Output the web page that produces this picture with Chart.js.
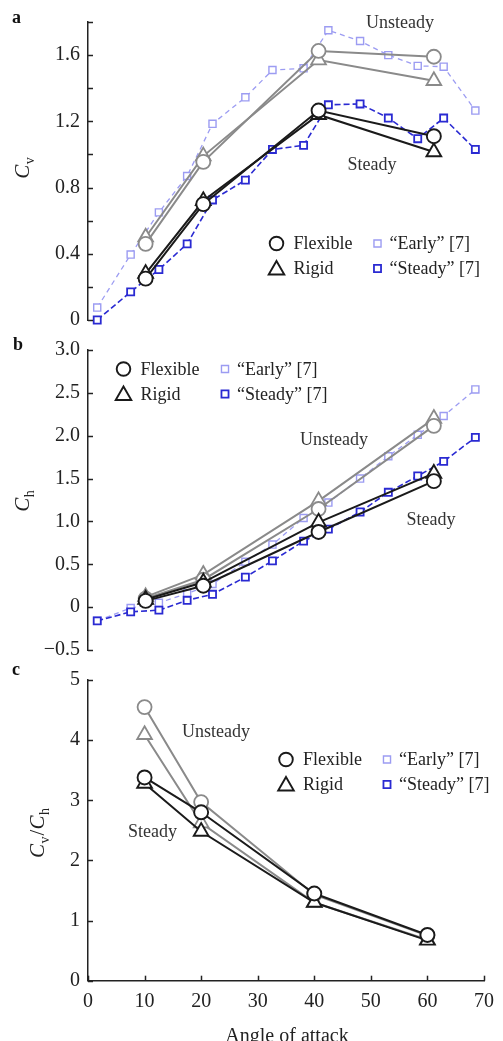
<!DOCTYPE html>
<html>
<head>
<meta charset="utf-8">
<script src="https://cdn.jsdelivr.net/npm/chart.js@4.4.1/dist/chart.umd.min.js"></script>
<style>
  html, body { margin: 0; padding: 0; background: #fff; }
  #fig { position: relative; width: 503px; height: 1041px; overflow: hidden; background: #fff; }
  .panel { position: absolute; left: 0; width: 503px; }
  .panel canvas { display: block; }
</style>
</head>
<body>
<div id="fig">
  <div class="panel" style="top:0px;height:340px"><canvas id="chartCv" width="503" height="340"></canvas></div>
  <div class="panel" style="top:330px;height:340px"><canvas id="chartCh" width="503" height="340"></canvas></div>
  <div class="panel" style="top:660px;height:381px"><canvas id="chartRatio" width="503" height="381"></canvas></div>
</div>
<script>
// Angles of attack (degrees) for the present measurements and for reference [7]
const angles = [10, 20, 40, 60];
const refAngles = [1.6, 7.4, 12.3, 17.2, 21.6, 27.3, 32.0, 37.4, 41.7, 47.2, 52.1, 57.2, 61.7, 67.2];

// Vertical force coefficient C_v
const cvFlexUnsteady  = [0.46, 0.955, 1.625, 1.59];
const cvRigidUnsteady = [0.50, 0.99, 1.57, 1.445];
const cvFlexSteady    = [0.25, 0.70, 1.265, 1.11];
const cvRigidSteady   = [0.28, 0.72, 1.24, 1.015];
const cvEarlyRef      = [0.075, 0.395, 0.65, 0.87, 1.185, 1.345, 1.51, 1.52, 1.75, 1.685, 1.60, 1.535, 1.53, 1.265];
const cvSteadyRef     = [0.0, 0.17, 0.305, 0.46, 0.725, 0.845, 1.03, 1.055, 1.30, 1.305, 1.22, 1.095, 1.22, 1.03];

// Horizontal force coefficient C_h
const chFlexUnsteady  = [0.10, 0.32, 1.145, 2.115];
const chRigidUnsteady = [0.12, 0.38, 1.24, 2.20];
const chFlexSteady    = [0.073, 0.25, 0.877, 1.47];
const chRigidSteady   = [0.09, 0.29, 0.99, 1.56];
const chEarlyRef      = [-0.16, -0.01, 0.05, 0.16, 0.27, 0.53, 0.73, 1.04, 1.22, 1.50, 1.76, 2.01, 2.23, 2.54];
const chSteadyRef     = [-0.16, -0.055, -0.035, 0.08, 0.15, 0.35, 0.54, 0.77, 0.91, 1.11, 1.34, 1.53, 1.70, 1.98];

// Force ratio C_v / C_h
const ratioFlexUnsteady  = [4.55, 2.97, 1.43, 0.75];
const ratioRigidUnsteady = [4.09, 2.62, 1.30, 0.68];
const ratioFlexSteady    = [3.38, 2.80, 1.45, 0.76];
const ratioRigidSteady   = [3.28, 2.48, 1.30, 0.67];

// Tick values
const xTicks = [0, 10, 20, 30, 40, 50, 60, 70];

const SERIF = '"Liberation Serif", "DejaVu Serif", serif';
const GRAY = '#8a8a8a';
const BLACK = '#1a1a1a';
const LAVENDER = '#9c9cf2';
const BLUE = '#2a2ad2';

const STY = {
  flexUnsteady:  { color: GRAY,  point: 'circle',   r: 7,   pbw: 1.8, lw: 2,   order: 2 },
  rigidUnsteady: { color: GRAY,  point: 'triangle', r: 8.5, pbw: 1.8, lw: 2,   order: 3 },
  flexSteady:    { color: BLACK, point: 'circle',   r: 7,   pbw: 1.9, lw: 2,   order: 0 },
  rigidSteady:   { color: BLACK, point: 'triangle', r: 8.5, pbw: 1.9, lw: 2,   order: 1 },
  earlyRef:      { color: LAVENDER, point: 'rect',  r: 5,   pbw: 1.4, lw: 1.3, dash: [5, 4], order: 5 },
  steadyRef:     { color: BLUE,  point: 'rect',     r: 5,   pbw: 1.8, lw: 1.6, dash: [6, 3], order: 4 }
};

function series(label, xs, ys, st) {
  return {
    label,
    data: xs.map((x, i) => ({ x, y: ys[i] })),
    borderColor: st.color,
    backgroundColor: '#fff',
    borderWidth: st.lw,
    borderDash: st.dash || [],
    pointStyle: st.point,
    pointRadius: st.r,
    pointHoverRadius: st.r,
    pointBorderWidth: st.pbw,
    pointBorderColor: st.color,
    pointBackgroundColor: '#fff',
    order: st.order,
    clip: false,
    tension: 0
  };
}

// Draws one marker the way Chart.js draws dataset points
function marker(ctx, st, x, y) {
  ctx.save();
  ctx.strokeStyle = st.color;
  ctx.fillStyle = '#fff';
  ctx.lineWidth = st.pbw;
  Chart.helpers.drawPoint(ctx, { pointStyle: st.point, radius: st.r, borderWidth: st.pbw, rotation: 0 }, x, y);
  ctx.restore();
}

// Italic symbol with upright subscript, rotated to read bottom-to-top
function yTitle(ctx, baseX, centerY, parts) {
  ctx.save();
  ctx.translate(baseX, centerY);
  ctx.rotate(-Math.PI / 2);
  const fontOf = p => p.sub ? `14px ${SERIF}` : (p.italic ? `italic 21px ${SERIF}` : `21px ${SERIF}`);
  let total = 0;
  parts.forEach(p => { ctx.font = fontOf(p); total += ctx.measureText(p.t).width + (p.gap || 0); });
  let x = -total / 2;
  ctx.fillStyle = '#222';
  ctx.textBaseline = 'alphabetic';
  ctx.textAlign = 'left';
  parts.forEach(p => {
    ctx.font = fontOf(p);
    ctx.fillText(p.t, x, p.sub ? 5 : 0);
    x += ctx.measureText(p.t).width + (p.gap || 0);
  });
  ctx.restore();
}

function decorPlugin(cfg) {
  return {
    id: 'decor',
    afterDraw(chart) {
      const ctx = chart.ctx;
      const ys = chart.scales.y;
      ctx.save();
      // inward tick marks
      ctx.strokeStyle = '#222';
      ctx.lineWidth = 1.5;
      ys.ticks.forEach(t => {
        const py = Math.round(ys.getPixelForValue(t.value)) + 0.5;
        ctx.beginPath();
        ctx.moveTo(ys.right, py);
        ctx.lineTo(ys.right + 5, py);
        ctx.stroke();
      });
      if (cfg.xAxis) {
        const xs = chart.scales.x;
        xs.ticks.forEach(t => {
          const px = Math.round(xs.getPixelForValue(t.value)) + 0.5;
          ctx.beginPath();
          ctx.moveTo(px, xs.top);
          ctx.lineTo(px, xs.top - 5);
          ctx.stroke();
        });
        ctx.fillStyle = '#222';
        ctx.font = `20px ${SERIF}`;
        ctx.textAlign = 'center';
        ctx.textBaseline = 'alphabetic';
        ctx.fillText('Angle of attack', 287, cfg.xTitleY);
      }
      // panel letter
      ctx.fillStyle = '#111';
      ctx.font = `bold 18px ${SERIF}`;
      ctx.textAlign = 'left';
      ctx.textBaseline = 'alphabetic';
      ctx.fillText(cfg.letter[0], cfg.letter[1], cfg.letter[2]);
      // y title
      yTitle(ctx, cfg.yTitle[0], cfg.yTitle[1], cfg.yTitle[2]);
      // regime annotations
      ctx.fillStyle = '#333';
      ctx.font = `18px ${SERIF}`;
      ctx.textAlign = 'center';
      ctx.textBaseline = 'middle';
      cfg.notes.forEach(n => ctx.fillText(n[0], n[1], n[2]));
      // legend
      const L = cfg.legend;
      const items = [
        [STY.flexSteady, 'Flexible', L.c1, L.r1],
        [STY.rigidSteady, 'Rigid', L.c1, L.r2],
        [STY.earlyRef, '\u201CEarly\u201D [7]', L.c2, L.r1],
        [STY.steadyRef, '\u201CSteady\u201D [7]', L.c2, L.r2]
      ];
      items.forEach(([st, text, cx, cy]) => {
        const lst = Object.assign({}, st);
        if (st.point === 'circle') lst.r = 6.8;
        else if (st.point === 'triangle') lst.r = 9;
        else lst.r = 5;
        marker(ctx, lst, cx, cy + (st.point === 'triangle' ? 1.5 : 0));
        ctx.fillStyle = '#222';
        ctx.font = `18px ${SERIF}`;
        ctx.textAlign = 'left';
        ctx.textBaseline = 'middle';
        ctx.fillText(text, cx + (st.point === 'rect' ? 12 : 17), cy + 1);
      });
      ctx.restore();
    }
  };
}

function makeChart(id, datasets, yOpts, layoutPad, cfg) {
  const xAxis = cfg.xAxis ? {
    type: 'linear', min: 0, max: 70,
    afterBuildTicks: s => { s.ticks = xTicks.map(v => ({ value: v })); },
    grid: { display: false, drawTicks: false },
    border: { display: true, color: '#222', width: 1.5 },
    ticks: { color: '#222', font: { family: SERIF, size: 20 }, padding: 9, maxRotation: 0, autoSkip: false },
    afterFit: s => { s.height = cfg.xHeight; }
  } : { type: 'linear', min: 0, max: 70, display: false };
  return new Chart(document.getElementById(id), {
    type: 'line',
    data: { datasets },
    options: {
      responsive: false,
      animation: false,
      events: [],
      layout: { padding: layoutPad },
      plugins: { legend: { display: false }, tooltip: { enabled: false } },
      scales: {
        x: xAxis,
        y: Object.assign({
          type: 'linear',
          grid: { display: false, drawTicks: false },
          border: { display: true, color: '#222', width: 1.5 },
          afterFit: s => { s.width = 88; }
        }, yOpts)
      }
    },
    plugins: [decorPlugin(cfg)]
  });
}

// ---- a: vertical force coefficient ----
const cvTicks = [0, 0.2, 0.4, 0.6, 0.8, 1.0, 1.2, 1.4, 1.6, 1.8];
makeChart('chartCv', [
  series('Flexible steady', angles, cvFlexSteady, STY.flexSteady),
  series('Rigid steady', angles, cvRigidSteady, STY.rigidSteady),
  series('Flexible unsteady', angles, cvFlexUnsteady, STY.flexUnsteady),
  series('Rigid unsteady', angles, cvRigidUnsteady, STY.rigidUnsteady),
  series('\u201CSteady\u201D [7]', refAngles, cvSteadyRef, STY.steadyRef),
  series('\u201CEarly\u201D [7]', refAngles, cvEarlyRef, STY.earlyRef)
], {
  min: 0, max: 1.8,
  afterBuildTicks: s => { s.ticks = cvTicks.map(v => ({ value: v })); },
  ticks: {
    color: '#222', font: { family: SERIF, size: 20 }, padding: 8,
    callback: v => { const k = Math.round(v * 10); return k % 4 === 0 ? (k === 0 ? '0' : (k / 10).toFixed(1)) : ''; }
  }
}, { top: 22, bottom: 17, left: 0, right: 11.5 }, {
  letter: ['a', 12, 23],
  yTitle: [29, 168, [{ t: 'C', italic: true, gap: 0.5 }, { t: 'v', sub: true }]],
  notes: [['Unsteady', 400, 23], ['Steady', 372, 165]],
  legend: { c1: 276.5, c2: 377.5, r1: 243.5, r2: 268.5 }
});

// ---- b: horizontal force coefficient ----
const chTicks = [-0.5, 0, 0.5, 1.0, 1.5, 2.0, 2.5, 3.0];
makeChart('chartCh', [
  series('Flexible steady', angles, chFlexSteady, STY.flexSteady),
  series('Rigid steady', angles, chRigidSteady, STY.rigidSteady),
  series('Flexible unsteady', angles, chFlexUnsteady, STY.flexUnsteady),
  series('Rigid unsteady', angles, chRigidUnsteady, STY.rigidUnsteady),
  series('\u201CSteady\u201D [7]', refAngles, chSteadyRef, STY.steadyRef),
  series('\u201CEarly\u201D [7]', refAngles, chEarlyRef, STY.earlyRef)
], {
  min: -0.5, max: 3.0,
  afterBuildTicks: s => { s.ticks = chTicks.map(v => ({ value: v })); },
  ticks: {
    color: '#222', font: { family: SERIF, size: 20 }, padding: 8,
    callback: v => v === 0 ? '0' : (v < 0 ? '\u2212' + Math.abs(v).toFixed(1) : v.toFixed(1))
  }
}, { top: 19.3, bottom: 17.3, left: 0, right: 11.5 }, {
  letter: ['b', 13, 20],
  yTitle: [29, 171, [{ t: 'C', italic: true, gap: 0.5 }, { t: 'h', sub: true }]],
  notes: [['Unsteady', 334, 110], ['Steady', 431, 190]],
  legend: { c1: 123.5, c2: 225, r1: 39, r2: 64 }
});

// ---- c: force ratio ----
const ratioTicks = [0, 1, 2, 3, 4, 5];
makeChart('chartRatio', [
  series('Flexible steady', angles, ratioFlexSteady, STY.flexSteady),
  series('Rigid steady', angles, ratioRigidSteady, STY.rigidSteady),
  series('Flexible unsteady', angles, ratioFlexUnsteady, STY.flexUnsteady),
  series('Rigid unsteady', angles, ratioRigidUnsteady, STY.rigidUnsteady)
], {
  min: 0, max: 5,
  afterBuildTicks: s => { s.ticks = ratioTicks.map(v => ({ value: v })); },
  ticks: { color: '#222', font: { family: SERIF, size: 20 }, padding: 8, callback: v => String(v) }
}, { top: 17.3, bottom: 0, left: 0, right: 11.5 }, {
  xAxis: true, xHeight: 60.3, xTitleY: 382,
  letter: ['c', 12, 15],
  yTitle: [44, 173, [{ t: 'C', italic: true, gap: 0.5 }, { t: 'v', sub: true, gap: 1 }, { t: '/' }, { t: 'C', italic: true, gap: 0.5 }, { t: 'h', sub: true }]],
  notes: [['Unsteady', 216, 72], ['Steady', 152.5, 172]],
  legend: { c1: 286, c2: 387, r1: 99.5, r2: 124.5 }
});
</script>
</body>
</html>
